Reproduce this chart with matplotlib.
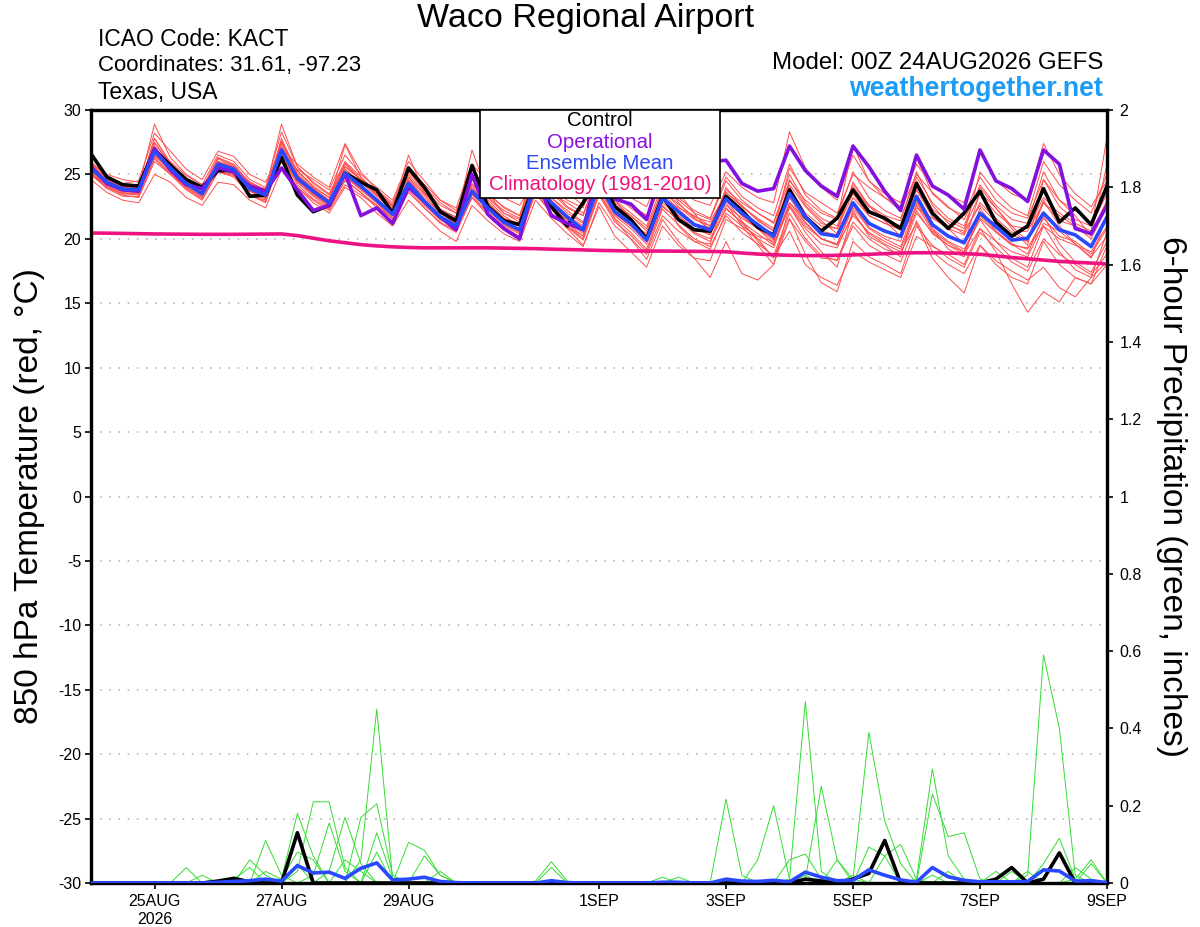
import matplotlib
matplotlib.use('Agg')
import matplotlib.pyplot as plt
import numpy as np
from matplotlib.patches import Rectangle

plt.rcParams['font.family'] = ['Liberation Sans', 'DejaVu Sans']
plt.rcParams['axes.unicode_minus'] = False

# time axis: 6-hourly steps from 00Z 24AUG2026, expressed in days
days = np.arange(65) * 0.25
tick_days = [1, 3, 5, 8, 10, 12, 14, 16]
tick_labels = ['25AUG\n2026', '27AUG', '29AUG', '1SEP', '3SEP', '5SEP', '7SEP', '9SEP']

# ---- 850 hPa temperature (C) ----
control_t = [26.6, 24.8, 24.2, 24.1, 26.9, 25.7, 24.6, 24.0, 25.3, 25.3, 23.3, 23.4,
             26.3, 23.4, 22.1, 22.6, 25.1, 24.4, 23.8, 22.0, 25.5, 24.0, 22.1, 21.4,
             25.7, 22.5, 21.4, 21.1, 24.5, 22.5, 21.0, 22.8, 25.0, 22.5, 21.5, 20.0,
             23.3, 21.5, 20.7, 20.6, 23.3, 22.2, 20.9, 20.3, 23.8, 21.7, 20.6, 21.6,
             23.8, 22.1, 21.6, 20.8, 24.3, 22.0, 20.8, 22.0, 23.7, 21.3, 20.2, 21.0,
             23.9, 21.3, 22.4, 21.1, 24.1]

oper_t = [25.6, 24.3, 23.8, 23.7, 27.0, 25.35, 24.2, 23.9, 25.5, 25.2, 24.1, 23.7,
          25.5, 23.8, 22.2, 22.6, 25.1, 21.8, 22.4, 21.2, 24.0, 22.9, 21.7, 20.7,
          25.0, 21.9, 20.8, 20.0, 24.8, 21.8, 21.2, 20.7, 25.5, 23.1, 22.7, 21.5,
          25.5, 24.5, 25.0, 26.0, 26.1, 24.3, 23.7, 23.9, 27.2, 25.3, 24.1, 23.3,
          27.2, 25.6, 23.7, 22.2, 26.5, 24.1, 23.4, 22.3, 26.9, 24.5, 23.9, 22.9,
          26.9, 25.8, 20.8, 20.4, 22.6]

mean_t = [25.5, 24.4, 23.85, 23.8, 26.8, 25.5, 24.3, 23.5, 25.8, 25.4, 23.9, 23.4,
          26.9, 24.7, 23.7, 22.8, 25.1, 24.1, 23.0, 21.9, 24.3, 22.9, 21.7, 21.0,
          23.7, 22.4, 21.3, 20.7, 24.3, 22.8, 21.7, 20.7, 24.3, 22.1, 21.2, 19.9,
          23.15, 22.1, 21.1, 20.7, 23.1, 22.0, 21.1, 20.2, 23.5, 21.7, 20.4, 20.2,
          22.8, 21.2, 20.6, 20.2, 23.3, 21.1, 20.2, 19.7, 22.0, 20.95, 19.9, 20.05,
          22.0, 20.7, 20.3, 19.4, 21.7]

clim_t = [20.45, 20.44, 20.42, 20.4, 20.38, 20.37, 20.36, 20.35, 20.35, 20.35, 20.36, 20.37,
          20.38, 20.25, 20.05, 19.85, 19.7, 19.55, 19.45, 19.38, 19.33, 19.3, 19.3, 19.3,
          19.3, 19.3, 19.28, 19.26, 19.24, 19.2, 19.17, 19.14, 19.1, 19.08, 19.06, 19.05,
          19.05, 19.04, 19.03, 19.02, 19.0, 18.9, 18.82, 18.76, 18.72, 18.7, 18.7, 18.72,
          18.75, 18.8, 18.85, 18.9, 18.92, 18.92, 18.9, 18.85, 18.8, 18.68, 18.55, 18.45,
          18.35, 18.25, 18.18, 18.12, 18.05]

# ensemble members (temperature)
mem01 = [26.0, 24.8, 24.2, 24.0, 28.9, 26.3, 25.0, 24.2, 26.5, 26.0, 24.6, 24.0,
         28.3, 25.6, 24.4, 23.5, 26.0, 24.8, 23.6, 22.6, 25.0, 23.5, 22.3, 21.7,
         24.6, 23.2, 22.0, 21.5, 25.5, 23.8, 22.5, 21.8, 25.3, 23.0, 22.0, 21.0,
         24.2, 23.0, 22.0, 21.5, 24.5, 23.0, 22.0, 21.2, 25.0, 22.8, 21.6, 21.0,
         24.0, 22.5, 21.6, 21.0, 24.5, 22.3, 21.4, 20.8, 23.5, 22.0, 21.0, 20.8,
         23.2, 22.0, 21.2, 20.6, 27.9]
mem02 = [25.0, 24.0, 23.4, 23.2, 26.0, 25.0, 23.8, 23.0, 25.2, 24.9, 23.4, 22.8,
         26.4, 24.2, 23.1, 22.3, 24.5, 23.6, 22.4, 21.3, 23.8, 22.4, 21.2, 20.5,
         23.2, 21.8, 20.7, 20.0, 23.6, 22.0, 20.9, 19.9, 23.4, 21.3, 20.3, 19.0,
         22.3, 21.1, 20.0, 19.4, 21.8, 20.5, 19.6, 18.7, 22.0, 20.0, 18.7, 18.3,
         21.0, 19.5, 18.8, 18.2, 21.4, 19.0, 18.0, 17.3, 19.5, 18.3, 17.5, 16.8,
         17.8, 16.2, 15.5, 17.0, 18.2]
mem03 = [25.3, 24.2, 23.6, 23.5, 27.5, 25.8, 24.6, 23.8, 26.0, 25.6, 24.0, 23.5,
         27.8, 25.0, 23.9, 23.0, 25.4, 24.2, 23.1, 22.0, 24.5, 23.0, 21.8, 21.2,
         24.0, 22.5, 21.4, 20.6, 24.6, 22.6, 21.2, 20.2, 23.5, 21.5, 20.0, 18.4,
         21.5, 19.8, 18.5, 17.0, 19.8, 17.3, 16.8, 18.0, 21.5, 19.8, 18.5, 18.4,
         21.3, 20.0, 19.2, 18.8, 22.0, 20.5, 19.5, 19.0, 21.6, 20.5, 19.5, 19.3,
         21.0, 20.0, 19.5, 19.0, 21.0]
mem04 = [25.8, 24.6, 24.0, 24.0, 27.2, 25.6, 24.5, 23.8, 26.0, 25.5, 24.2, 23.6,
         27.5, 25.2, 24.0, 23.2, 25.8, 24.5, 23.4, 22.4, 25.2, 23.8, 22.6, 22.0,
         25.0, 23.2, 22.2, 21.6, 25.6, 24.0, 23.0, 22.4, 26.0, 24.0, 23.2, 22.5,
         25.5, 24.0, 23.0, 22.6, 25.2, 24.0, 23.2, 22.8, 28.3, 25.5, 24.0, 23.0,
         26.5, 24.5, 23.5, 22.8, 25.8, 24.2, 23.4, 22.8, 26.7, 24.5, 23.5, 23.0,
         27.4, 25.0, 23.5, 22.5, 24.5]
mem05 = [25.2, 24.1, 23.5, 23.4, 26.5, 25.2, 24.0, 23.2, 25.5, 25.0, 23.5, 23.0,
         26.8, 24.5, 23.5, 22.5, 24.8, 23.8, 22.8, 21.6, 24.0, 22.6, 21.5, 20.8,
         23.4, 22.0, 20.9, 20.2, 23.8, 22.3, 21.0, 20.0, 23.6, 21.6, 20.5, 19.2,
         22.6, 21.4, 20.5, 20.0, 22.4, 21.2, 20.0, 18.5, 21.6, 18.8, 16.6, 15.9,
         19.8, 18.6, 18.0, 17.3, 21.0, 19.5, 18.5, 17.8, 20.5, 19.3, 18.2, 17.5,
         20.0, 18.8, 18.0, 17.2, 18.8]
mem06 = [25.6, 24.5, 23.9, 23.6, 26.6, 25.4, 24.3, 23.6, 25.6, 25.3, 23.8, 23.2,
         26.2, 24.6, 23.6, 22.8, 27.3, 24.8, 23.4, 22.2, 26.5, 23.6, 22.2, 21.5,
         26.9, 23.5, 22.0, 21.3, 25.0, 23.2, 22.0, 21.2, 24.8, 22.8, 21.8, 20.8,
         23.8, 22.5, 21.5, 21.0, 23.8, 22.8, 22.0, 21.3, 24.5, 23.0, 22.0, 21.5,
         27.3, 24.5, 23.2, 22.5, 26.3, 23.5, 22.4, 21.8, 24.8, 23.0, 22.0, 21.6,
         24.6, 22.5, 21.5, 21.0, 23.5]
mem07 = [25.0, 23.9, 23.3, 23.3, 26.2, 25.0, 23.9, 23.1, 25.2, 24.8, 23.4, 22.9,
         26.5, 24.4, 23.3, 22.4, 24.6, 23.6, 22.6, 21.5, 23.6, 22.4, 21.3, 20.6,
         23.2, 22.0, 21.0, 20.4, 23.5, 22.0, 21.0, 20.2, 23.8, 21.8, 20.8, 19.6,
         22.5, 21.5, 20.4, 19.8, 22.3, 21.3, 20.4, 19.5, 22.5, 20.8, 19.6, 19.3,
         22.0, 20.4, 19.6, 19.0, 21.2, 18.5, 17.0, 15.8, 19.5, 18.0, 17.0, 16.5,
         19.8, 18.0, 17.0, 16.5, 18.0]
mem08 = [25.5, 24.5, 24.0, 23.9, 27.0, 25.6, 24.4, 23.7, 26.2, 25.6, 24.1, 23.6,
         27.2, 24.9, 23.9, 23.0, 25.4, 24.4, 23.3, 22.2, 24.6, 23.2, 22.0, 21.3,
         24.0, 22.7, 21.6, 21.0, 24.8, 23.2, 22.2, 21.3, 24.6, 22.6, 21.8, 20.6,
         23.8, 22.7, 21.7, 21.3, 23.6, 22.5, 21.6, 20.8, 24.2, 22.5, 21.2, 20.8,
         23.5, 21.8, 21.2, 20.7, 23.8, 21.7, 20.8, 20.3, 22.8, 21.6, 20.5, 20.6,
         22.8, 21.4, 21.0, 20.0, 22.5]
mem09 = [25.4, 24.3, 23.7, 23.6, 26.9, 25.4, 24.2, 23.4, 25.9, 25.3, 23.8, 23.2,
         27.0, 24.6, 23.5, 22.6, 25.0, 24.0, 22.9, 21.8, 24.2, 22.8, 21.5, 20.9,
         23.5, 22.3, 21.2, 20.6, 24.0, 22.5, 21.4, 20.4, 24.0, 21.9, 21.0, 19.8,
         23.0, 21.8, 20.8, 20.3, 23.0, 21.8, 20.8, 19.9, 23.2, 21.3, 20.0, 19.6,
         22.6, 20.9, 20.2, 19.8, 23.0, 20.8, 19.8, 19.2, 21.5, 19.8, 18.5, 17.8,
         21.0, 19.0, 17.6, 17.0, 20.5]
mem10 = [25.7, 24.6, 24.0, 23.8, 27.8, 25.9, 24.7, 23.9, 26.3, 25.8, 24.3, 23.8,
         28.9, 25.6, 24.3, 23.4, 25.9, 24.6, 23.5, 22.5, 25.3, 23.6, 22.3, 21.6,
         24.3, 22.8, 21.6, 21.0, 24.0, 22.0, 20.8, 19.5, 22.5, 20.2, 19.0, 17.8,
         21.0, 19.5, 18.5, 18.3, 21.5, 20.8, 20.0, 19.3, 22.8, 21.5, 20.6, 20.3,
         23.2, 21.8, 21.2, 20.8, 23.8, 22.0, 21.0, 20.6, 22.6, 21.3, 20.3, 19.8,
         22.8, 21.8, 21.0, 20.4, 23.0]
mem11 = [25.1, 24.0, 23.5, 23.5, 26.3, 25.1, 24.0, 23.3, 25.4, 25.1, 23.7, 23.1,
         26.6, 24.4, 23.4, 22.6, 24.9, 23.9, 22.8, 21.8, 24.0, 22.7, 21.5, 20.8,
         23.8, 22.2, 21.1, 20.5, 24.2, 22.6, 21.5, 20.7, 24.8, 22.4, 21.4, 20.2,
         23.5, 22.3, 21.2, 20.8, 23.2, 21.8, 20.8, 19.6, 22.8, 21.2, 20.0, 19.6,
         22.4, 20.8, 20.0, 19.4, 22.6, 20.6, 19.7, 19.0, 21.8, 20.6, 19.6, 19.2,
         21.6, 20.2, 19.8, 18.8, 20.8]
mem12 = [25.9, 24.7, 24.1, 24.0, 27.4, 25.8, 24.6, 23.8, 26.3, 25.7, 24.4, 23.8,
         27.6, 25.3, 24.1, 23.2, 25.6, 24.6, 23.6, 22.6, 25.6, 24.0, 22.8, 22.0,
         25.5, 23.6, 22.4, 21.8, 25.2, 23.6, 22.4, 21.8, 25.6, 23.4, 22.4, 21.4,
         24.6, 23.2, 22.2, 21.6, 24.8, 23.3, 22.4, 21.8, 25.8, 23.4, 22.2, 21.6,
         25.2, 23.2, 22.2, 21.6, 24.8, 22.8, 21.6, 21.0, 24.2, 22.6, 21.5, 21.2,
         25.2, 23.0, 22.2, 21.3, 24.2]
mem13 = [25.3, 24.2, 23.7, 23.6, 26.6, 25.3, 24.1, 23.4, 25.7, 25.2, 23.7, 23.2,
         26.4, 24.6, 23.6, 22.7, 24.8, 23.9, 22.9, 21.8, 24.1, 22.8, 21.6, 20.9,
         23.6, 22.3, 21.2, 20.6, 24.2, 22.7, 21.6, 20.6, 24.1, 22.0, 21.0, 19.8,
         22.8, 21.8, 20.8, 20.4, 22.6, 21.6, 20.8, 20.0, 22.6, 21.0, 20.0, 19.5,
         21.8, 20.5, 19.8, 19.2, 22.2, 20.4, 19.5, 18.8, 20.8, 19.0, 16.5, 14.3,
         15.9, 15.1, 17.0, 16.5, 19.5]
mem14 = [25.2, 24.6, 24.3, 24.5, 28.2, 26.8, 25.4, 24.6, 26.8, 26.4, 25.0, 24.4,
         27.0, 25.8, 24.8, 24.0, 27.4, 25.2, 23.8, 22.8, 25.6, 24.2, 23.0, 22.4,
         25.8, 24.4, 23.2, 22.6, 24.6, 23.5, 22.8, 22.0, 24.0, 23.4, 22.6, 21.8,
         24.8, 23.6, 22.0, 20.5, 24.0, 22.5, 21.5, 20.6, 25.5, 23.6, 22.8, 22.0,
         25.0, 24.0, 23.2, 22.2, 25.0, 23.6, 22.5, 21.5, 24.0, 22.4, 20.8, 19.5,
         24.6, 23.0, 21.8, 20.2, 25.8]
mem15 = [24.6, 23.6, 23.0, 22.8, 25.0, 24.4, 23.2, 22.6, 24.4, 24.2, 23.0, 22.4,
         25.4, 24.0, 22.8, 22.0, 24.0, 23.2, 22.0, 21.0, 23.0, 21.8, 20.6, 19.8,
         22.6, 21.4, 20.4, 19.8, 23.0, 21.6, 20.4, 19.4, 22.8, 21.0, 20.0, 18.8,
         21.8, 20.6, 19.8, 19.2, 22.0, 21.0, 19.5, 18.0, 22.5, 20.5, 19.0, 17.8,
         22.2, 20.2, 19.5, 18.6, 22.8, 20.8, 19.2, 18.6, 22.4, 20.6, 19.6, 18.8,
         21.8, 19.6, 18.2, 17.4, 19.8]
mem16 = [25.9, 25.0, 24.6, 24.4, 27.0, 26.0, 24.9, 24.2, 25.2, 25.0, 24.2, 23.9,
         26.0, 25.4, 24.6, 23.8, 26.5, 25.0, 24.0, 23.0, 26.0, 24.5, 23.0, 22.2,
         24.8, 23.4, 22.5, 21.8, 25.8, 24.6, 23.6, 22.6, 24.4, 23.2, 22.6, 21.8,
         24.8, 22.8, 21.6, 20.8, 22.8, 21.0, 20.2, 19.8, 24.6, 22.6, 21.4, 20.4,
         24.4, 22.6, 21.8, 21.4, 25.2, 22.6, 21.2, 20.4, 25.2, 23.6, 22.4, 21.8,
         26.0, 24.2, 23.0, 22.0, 25.0]
mem17 = [25.4, 24.4, 23.8, 23.6, 26.4, 25.6, 24.6, 23.9, 25.9, 25.6, 24.4, 23.8,
         27.4, 25.0, 23.6, 22.8, 25.6, 24.6, 23.8, 22.6, 24.8, 23.0, 21.8, 21.0,
         24.2, 22.8, 21.6, 21.2, 24.4, 23.0, 21.8, 21.0, 24.2, 22.2, 21.2, 20.4,
         23.2, 22.4, 21.8, 21.0, 23.0, 21.4, 19.8, 18.6, 20.6, 18.0, 17.0, 16.4,
         19.0, 18.2, 17.6, 17.0, 20.2, 19.4, 18.8, 18.0, 20.8, 19.8, 19.0, 18.6,
         21.2, 20.6, 19.6, 18.6, 20.2]
mem18 = [25.0, 24.2, 23.8, 23.8, 27.8, 25.9, 24.4, 23.5, 25.4, 25.4, 24.4, 23.4,
         26.0, 24.0, 23.0, 22.2, 24.2, 23.4, 22.6, 21.6, 24.8, 23.4, 22.0, 21.2,
         24.6, 23.0, 21.8, 21.0, 23.8, 22.4, 21.8, 20.8, 24.6, 23.0, 21.6, 20.2,
         23.4, 21.0, 19.8, 19.6, 23.6, 22.6, 21.4, 20.6, 24.0, 22.0, 21.0, 20.8,
         24.2, 22.6, 21.4, 20.2, 22.4, 21.6, 20.8, 19.6, 23.6, 22.4, 21.0, 19.8,
         23.0, 21.0, 19.6, 18.5, 21.8]
members_t = [mem01, mem02, mem03, mem04, mem05, mem06, mem07, mem08, mem09,
             mem10, mem11, mem12, mem13, mem14, mem15, mem16, mem17, mem18]

# ---- 6-hour precipitation (inches) ----
control_p = [0, 0, 0, 0, 0, 0, 0, 0, 0.005, 0.012, 0.003, 0, 0,
             0.13, 0, 0, 0, 0, 0, 0, 0, 0, 0, 0, 0, 0,
             0, 0, 0, 0, 0, 0, 0, 0, 0, 0, 0, 0, 0,
             0, 0, 0, 0, 0, 0, 0.01, 0.005, 0, 0.01, 0.025, 0.11, 0,
             0, 0, 0, 0, 0, 0.01, 0.04, 0, 0.01, 0.078, 0, 0, 0]
mean_p = [0, 0, 0, 0, 0, 0, 0, 0, 0.002, 0.004, 0.006, 0.01, 0.005,
          0.045, 0.026, 0.028, 0.012, 0.038, 0.052, 0.008, 0.01, 0.015, 0.004, 0.001, 0, 0,
          0, 0, 0, 0.006, 0.001, 0, 0, 0, 0, 0, 0.002, 0.002, 0,
          0, 0.01, 0.005, 0.004, 0.007, 0.003, 0.028, 0.015, 0.006, 0.007, 0.034, 0.02, 0.008,
          0.002, 0.04, 0.016, 0.007, 0.003, 0.003, 0.003, 0.004, 0.034, 0.031, 0.005, 0.006, 0.001]

pm01 = [0, 0, 0, 0, 0, 0, 0, 0, 0, 0, 0, 0, 0,
        0, 0, 0, 0, 0.06, 0.45, 0.01, 0, 0, 0, 0, 0, 0,
        0, 0, 0, 0, 0, 0, 0, 0, 0, 0, 0, 0, 0,
        0, 0, 0, 0, 0, 0, 0.02, 0, 0, 0, 0, 0, 0,
        0, 0, 0, 0, 0, 0, 0, 0.02, 0.59, 0.40, 0.02, 0, 0]
pm02 = [0, 0, 0, 0, 0, 0, 0, 0, 0, 0, 0, 0, 0,
        0.03, 0.21, 0.21, 0.04, 0, 0, 0, 0, 0, 0, 0, 0, 0,
        0, 0, 0, 0, 0, 0, 0, 0, 0, 0, 0, 0, 0,
        0, 0, 0, 0, 0, 0.01, 0.47, 0.03, 0, 0, 0, 0, 0,
        0, 0.02, 0, 0, 0, 0, 0, 0, 0, 0, 0, 0, 0]
pm03 = [0, 0, 0, 0, 0, 0, 0, 0, 0, 0, 0, 0, 0.01,
        0.18, 0.07, 0, 0, 0, 0, 0, 0, 0, 0, 0, 0, 0,
        0, 0, 0, 0, 0, 0, 0, 0, 0, 0, 0, 0, 0,
        0, 0.01, 0, 0, 0, 0, 0, 0, 0, 0.01, 0.39, 0.16, 0.05,
        0, 0, 0, 0, 0, 0, 0, 0, 0, 0, 0, 0, 0]
pm04 = [0, 0, 0, 0, 0, 0, 0, 0, 0, 0, 0, 0, 0,
        0, 0.02, 0.155, 0.03, 0, 0, 0, 0, 0, 0, 0, 0, 0,
        0, 0, 0, 0, 0, 0, 0, 0, 0, 0, 0, 0, 0,
        0, 0, 0, 0, 0, 0, 0.01, 0.25, 0.06, 0.01, 0, 0, 0,
        0.01, 0.295, 0.07, 0.01, 0, 0, 0, 0, 0, 0, 0, 0, 0]
pm05 = [0, 0, 0, 0, 0, 0, 0, 0, 0, 0, 0, 0, 0,
        0, 0, 0.03, 0.17, 0.05, 0, 0, 0, 0, 0, 0, 0, 0,
        0, 0, 0, 0, 0, 0, 0, 0, 0, 0, 0, 0, 0,
        0, 0.217, 0.02, 0, 0, 0, 0, 0, 0, 0, 0, 0, 0,
        0, 0.23, 0.12, 0.13, 0.01, 0, 0, 0, 0, 0, 0, 0, 0]
pm06 = [0, 0, 0, 0, 0, 0, 0, 0, 0, 0, 0, 0, 0,
        0, 0, 0, 0, 0.17, 0.205, 0.02, 0, 0, 0, 0, 0, 0,
        0, 0, 0, 0, 0, 0, 0, 0, 0, 0, 0, 0, 0,
        0, 0, 0, 0.06, 0.2, 0.01, 0, 0, 0, 0, 0, 0, 0,
        0, 0, 0, 0, 0, 0, 0, 0, 0, 0, 0.01, 0.06, 0]
pm07 = [0, 0, 0, 0, 0, 0, 0, 0, 0, 0, 0, 0.11, 0.02,
        0, 0, 0, 0, 0, 0, 0, 0.105, 0.085, 0.02, 0, 0, 0,
        0, 0, 0, 0, 0, 0, 0, 0, 0, 0, 0, 0, 0,
        0, 0, 0, 0, 0, 0, 0, 0, 0, 0, 0.093, 0.07, 0.10,
        0.01, 0, 0, 0, 0, 0, 0, 0, 0.05, 0.116, 0.01, 0, 0]
pm08 = [0, 0, 0, 0, 0, 0, 0.04, 0, 0, 0, 0.06, 0.02, 0,
        0.05, 0, 0, 0, 0, 0.13, 0.01, 0, 0, 0, 0, 0, 0,
        0, 0, 0.005, 0.055, 0.005, 0, 0, 0, 0, 0, 0, 0, 0,
        0, 0, 0, 0, 0, 0.06, 0.075, 0.01, 0, 0, 0, 0, 0,
        0, 0, 0, 0, 0, 0, 0, 0, 0, 0, 0, 0, 0]
pm09 = [0, 0, 0, 0, 0, 0, 0, 0.02, 0, 0, 0, 0.03, 0.01,
        0.08, 0.06, 0, 0, 0, 0.08, 0, 0, 0.07, 0.02, 0, 0, 0,
        0, 0, 0, 0.04, 0, 0, 0, 0, 0, 0, 0.015, 0, 0,
        0, 0, 0, 0, 0, 0, 0, 0, 0.06, 0, 0, 0.07, 0,
        0, 0, 0, 0, 0, 0, 0.03, 0, 0, 0, 0, 0.05, 0]
pm10 = [0, 0, 0, 0, 0, 0, 0, 0, 0, 0.01, 0.04, 0, 0,
        0, 0, 0, 0.06, 0.03, 0, 0, 0, 0, 0.03, 0, 0, 0,
        0, 0, 0, 0, 0, 0, 0, 0, 0, 0, 0, 0.015, 0,
        0, 0, 0, 0, 0, 0, 0, 0, 0, 0.02, 0, 0, 0,
        0, 0, 0.03, 0, 0, 0.03, 0, 0.03, 0, 0, 0.04, 0.01, 0]
members_p = [pm01, pm02, pm03, pm04, pm05, pm06, pm07, pm08, pm09, pm10]

# ---- figure ----
W, H = 1200, 927
fig = plt.figure(figsize=(W / 100, H / 100), dpi=100)
ax = fig.add_axes([91 / W, 1 - 883 / H, (1107 - 91) / W, (883 - 110) / H])
ax2 = ax.twinx()

for m in members_t:
    ax.plot(days, m, color='#ff4d4d', lw=0.7, zorder=2)
ax.plot(days, clim_t, color='#ee1282', lw=2.6, zorder=3)
ax.plot(days, control_t, color='black', lw=2.6, zorder=4)
ax.plot(days, oper_t, color='#8410e0', lw=2.6, zorder=5)
ax.plot(days, mean_t, color='#2a48ff', lw=2.6, zorder=6)

for m in members_p:
    ax2.plot(days, m, color='#33dd33', lw=0.7, zorder=2)
ax2.plot(days, control_p, color='black', lw=2.6, zorder=4)
ax2.plot(days, mean_p, color='#2a48ff', lw=2.6, zorder=5)

ax.set_xlim(0, 16)
ax.set_ylim(-30, 30)
ax2.set_ylim(0, 2)
ax.set_yticks(range(-30, 31, 5))
ax2.set_yticks(np.arange(0, 2.01, 0.2))
ax2.set_yticklabels(['%g' % round(v, 1) for v in np.arange(0, 2.01, 0.2)])
ax.set_xticks(tick_days)
ax.set_xticklabels(tick_labels)

ax.yaxis.grid(True, linestyle=(0, (1, 5)), color='#aaaaaa', lw=1.1)
ax.set_axisbelow(True)

ax.tick_params(axis='both', direction='out', length=4, width=1.2,
               labelsize=11.5, pad=3)
ax.tick_params(axis='x', pad=4)
ax2.tick_params(axis='y', direction='out', length=4, width=1.2,
                labelsize=11.5, pad=5)
for a in (ax, ax2):
    for s in a.spines.values():
        s.set_linewidth(2.3)

# legend box
ax2.add_patch(Rectangle((0.383, 0.886), 0.236, 0.114, transform=ax2.transAxes,
                        facecolor='white', edgecolor='black', lw=1.2,
                        zorder=10, clip_on=False))
legend_items = [('Control', 'black', 0.9858),
                ('Operational', '#8a10e0', 0.9586),
                ('Ensemble Mean', '#2d48f5', 0.9314),
                ('Climatology (1981-2010)', '#f0107a', 0.9035)]
for txt, col, yy in legend_items:
    ax2.text(0.501, yy, txt, color=col, fontsize=14.7, ha='center',
             va='center', transform=ax2.transAxes, zorder=11)

# header texts
fig.text(586 / W, 1 - 18 / H, 'Waco Regional Airport', fontsize=24.5,
         ha='center', va='center')
fig.text(98 / W, 1 - 40 / H, 'ICAO Code: KACT', fontsize=16.5, va='center')
fig.text(98 / W, 1 - 66 / H, 'Coordinates: 31.61, -97.23', fontsize=16, va='center')
fig.text(98 / W, 1 - 92 / H, 'Texas, USA', fontsize=16.5, va='center')
fig.text(1103 / W, 1 - 63 / H, 'Model: 00Z 24AUG2026 GEFS', fontsize=17.3,
         ha='right', va='center')
fig.text(1103 / W, 1 - 89 / H, 'weathertogether.net', fontsize=19.3,
         fontweight='bold', color='#1e9cf5', ha='right', va='center')

fig.text(30 / W, 1 - 496 / H, '850 hPa Temperature (red, \u00b0C)', fontsize=24,
         rotation=90, ha='center', va='center')
fig.text(1172 / W, 1 - 496 / H, '6-hour Precipitation (green, inches)', fontsize=24,
         rotation=-90, ha='center', va='center')

fig.savefig('out.png', dpi=100)
